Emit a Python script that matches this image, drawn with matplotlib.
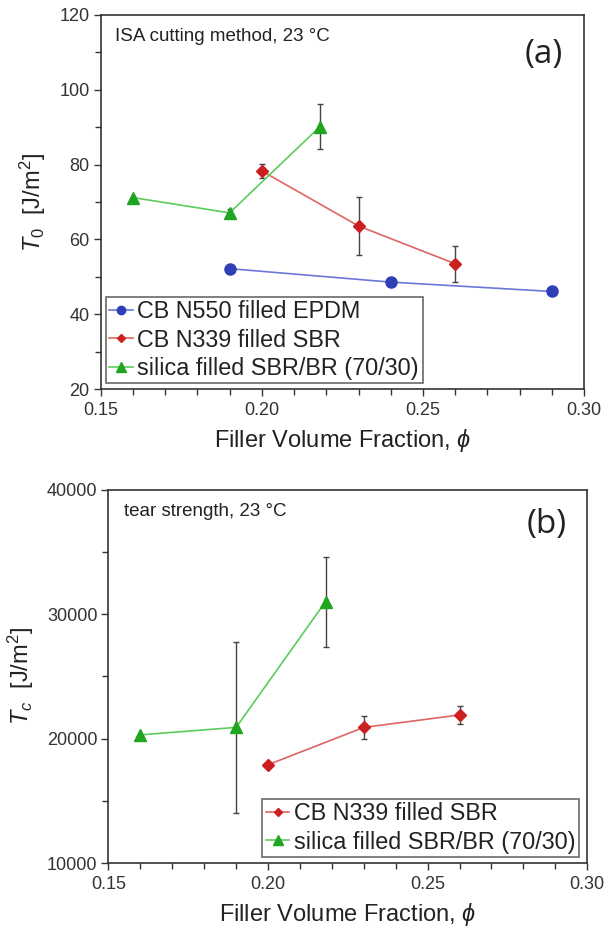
import matplotlib
matplotlib.use("Agg")
import matplotlib.pyplot as plt
from matplotlib.ticker import MultipleLocator

plt.rcParams['font.family'] = ['Liberation Sans', 'DejaVu Sans']
plt.rcParams['mathtext.fontset'] = 'custom'
plt.rcParams['mathtext.rm'] = 'Liberation Sans'
plt.rcParams['mathtext.it'] = 'Liberation Sans:italic'

# ---- data: panel (a) T0 ----
epdm_x = [0.19, 0.24, 0.29]
epdm_t0 = [52.2, 48.6, 46.1]

sbr_x = [0.20, 0.23, 0.26]
sbr_t0 = [78.3, 63.6, 53.5]
sbr_t0_err = [1.9, 7.7, 4.8]

silica_x = [0.16, 0.19, 0.218]
silica_t0 = [71.2, 67.1, 90.1]
silica_t0_err = [0.0, 1.0, 6.0]

# ---- data: panel (b) Tc ----
sbr_tc = [17900, 20900, 21900]
sbr_tc_err = [0, 930, 700]
silica_tc = [20300, 20900, 31000]
silica_tc_err = [0, 6850, 3600]

labels = ["CB N550 filled EPDM", "CB N339 filled SBR", "silica filled SBR/BR (70/30)"]

blue_m, blue_l = "#2f3fb5", "#6a78d8"
red_m, red_l = "#cc2020", "#e06464"
green_m, green_l = "#1fa51f", "#5ccc5c"

fig = plt.figure(figsize=(6.06, 9.31), dpi=100)
ax1 = fig.add_axes([0.166, 0.582, 0.798, 0.402])
ax2 = fig.add_axes([0.179, 0.073, 0.790, 0.401])

def style(ax):
    ax.set_xlim(0.15, 0.30)
    ax.xaxis.set_major_locator(MultipleLocator(0.05))
    ax.xaxis.set_minor_locator(MultipleLocator(0.01))
    ax.tick_params(axis='x', which='major', direction='out', length=5, width=1, labelsize=13, colors='#333333', pad=4)
    ax.tick_params(axis='x', which='minor', direction='out', length=4, width=1, colors='#333333')
    ax.tick_params(axis='y', which='major', direction='out', length=5, width=1, labelsize=13, colors='#333333', pad=3)
    ax.tick_params(axis='y', which='minor', direction='out', length=4, width=1, colors='#333333')
    ax.xaxis.set_major_formatter(matplotlib.ticker.FormatStrFormatter('%.2f'))
    for s in ax.spines.values():
        s.set_color('#333333')
        s.set_linewidth(1.2)
    ax.set_xlabel(r"Filler Volume Fraction, $\phi$", fontsize=17, color='#222222', labelpad=6)

err_kw = dict(ecolor='#444444', elinewidth=1, capsize=2, capthick=1)
leg_kw = dict(fontsize=16.8, frameon=True, fancybox=False, edgecolor='#444444', handlelength=1.0,
              handletextpad=0.2, borderpad=0.15, labelspacing=0.22, borderaxespad=0.0, markerscale=0.75)

# panel (a)
ax1.plot(epdm_x, epdm_t0, '-', color=blue_l, lw=1.2, marker='o', ms=8, mfc=blue_m, mec=blue_m, label=labels[0])
ax1.errorbar(sbr_x, sbr_t0, yerr=sbr_t0_err, fmt='none', **err_kw)
ax1.plot(sbr_x, sbr_t0, '-', color=red_l, lw=1.2, marker='D', ms=6, mfc=red_m, mec=red_m, label=labels[1])
ax1.errorbar(silica_x, silica_t0, yerr=silica_t0_err, fmt='none', **err_kw)
ax1.plot(silica_x, silica_t0, '-', color=green_l, lw=1.2, marker='^', ms=9, mfc=green_m, mec=green_m, label=labels[2])
ax1.set_ylim(20, 120)
ax1.yaxis.set_major_locator(MultipleLocator(20))
ax1.yaxis.set_minor_locator(MultipleLocator(10))
style(ax1)
ax1.set_ylabel(r"$T_0$  [J/m$^2$]", fontsize=17, color='#222222', labelpad=8)
ax1.text(0.03, 0.941, "ISA cutting method, 23 °C", transform=ax1.transAxes, fontsize=13.5, va='center', ha='left', color='#222222')
ax1.text(0.917, 0.893, "(a)", transform=ax1.transAxes, fontsize=24, va='center', ha='center', color='#222222', family=['Open Sans', 'DejaVu Sans'])
leg1 = ax1.legend(loc='lower left', bbox_to_anchor=(0.011, 0.016), **leg_kw)
leg1.get_frame().set_linewidth(1.2)
for t in leg1.get_texts():
    t.set_color('#222222')

# panel (b)
ax2.errorbar(silica_x, silica_tc, yerr=silica_tc_err, fmt='none', **err_kw)
ax2.plot(silica_x, silica_tc, '-', color=green_l, lw=1.2, marker='^', ms=9, mfc=green_m, mec=green_m, label=labels[2])
ax2.errorbar(sbr_x, sbr_tc, yerr=sbr_tc_err, fmt='none', **err_kw)
ax2.plot(sbr_x, sbr_tc, '-', color=red_l, lw=1.2, marker='D', ms=6, mfc=red_m, mec=red_m, label=labels[1])
ax2.set_ylim(10000, 40000)
ax2.yaxis.set_major_locator(MultipleLocator(10000))
ax2.yaxis.set_minor_locator(MultipleLocator(5000))
style(ax2)
ax2.set_ylabel(r"$T_c$  [J/m$^2$]", fontsize=17, color='#222222', labelpad=8)
ax2.text(0.032, 0.942, "tear strength, 23 °C", transform=ax2.transAxes, fontsize=13.5, va='center', ha='left', color='#222222')
ax2.text(0.916, 0.906, "(b)", transform=ax2.transAxes, fontsize=24, va='center', ha='center', color='#222222', family=['Open Sans', 'DejaVu Sans'])
h, l = ax2.get_legend_handles_labels()
leg2 = ax2.legend([h[1], h[0]], [l[1], l[0]], loc='lower right', bbox_to_anchor=(0.983, 0.016), **leg_kw)
leg2.get_frame().set_linewidth(1.2)
for t in leg2.get_texts():
    t.set_color('#222222')

fig.savefig("out.png", dpi=100)
